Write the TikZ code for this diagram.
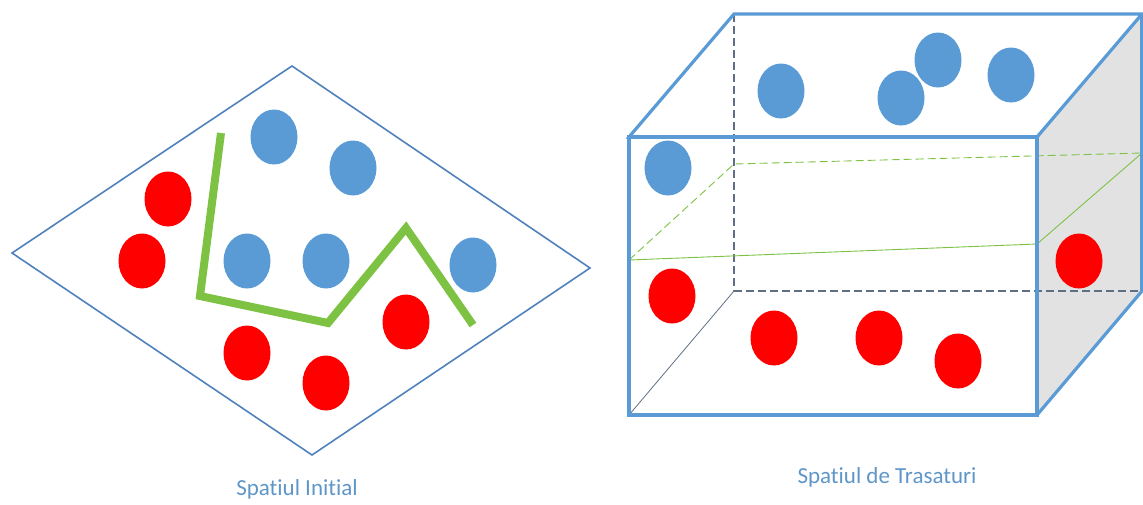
\documentclass[tikz,border=0pt]{standalone}
\usepackage{fontspec}
\setmainfont{Carlito}[Ligatures={NoCommon}]
\usetikzlibrary{shapes.geometric}
\definecolor{dotblue}{HTML}{5B9BD5}
\definecolor{dotred}{HTML}{FF0000}
\definecolor{sepgreen}{HTML}{7DC243}
\definecolor{edgeblue}{HTML}{5B9BD5}
\definecolor{diamblue}{HTML}{4F81BD}
\definecolor{hidden}{HTML}{5F6F85}
\definecolor{sideface}{HTML}{E2E2E2}
\definecolor{labelblue}{HTML}{5F96C8}
\tikzset{
  bdot/.style={ellipse,fill=dotblue,minimum width=47pt,minimum height=55pt,inner sep=0pt},
  rdot/.style={ellipse,fill=dotred,minimum width=47pt,minimum height=55pt,inner sep=0pt},
  cubeedge/.style={draw=edgeblue,line width=3.2pt,line join=miter},
  backedge/.style={draw=hidden,line width=1.1pt,dash pattern=on 8pt off 4pt},
  planeline/.style={draw=sepgreen,line width=0.9pt},
  planedash/.style={draw=sepgreen,line width=0.9pt,dash pattern=on 8pt off 4pt},
  caption/.style={text=labelblue,font=\fontsize{23}{27}\selectfont}
}
\begin{document}
\begin{tikzpicture}[x=1pt,y=-1pt]
\useasboundingbox (0,0) rectangle (1143,504);
% ---------- left: initial space ----------
\coordinate (dT) at (292,66);
\coordinate (dL) at (12,253);
\coordinate (dR) at (590,268);
\coordinate (dB) at (312,455);
\draw[diamblue,line width=1.6pt,line join=miter] (dT) -- (dR) -- (dB) -- (dL) -- cycle;
\node[bdot] (b1) at (274,137) {};
\node[bdot] (b2) at (353,168) {};
\node[bdot] (b3) at (247,261) {};
\node[bdot] (b4) at (326,261) {};
\node[bdot] (b5) at (473,265) {};
\node[rdot] (r1) at (168,199) {};
\node[rdot] (r2) at (142,261) {};
\node[rdot] (r3) at (406,322) {};
\node[rdot] (r4) at (247,353) {};
\node[rdot] (r5) at (326,383) {};
\coordinate (g1) at (221,133);
\coordinate (g2) at (200,296);
\coordinate (g3) at (328,323);
\coordinate (g4) at (406,228);
\coordinate (g5) at (473,325);
\draw[sepgreen,line width=8pt,line join=miter] (g1) -- (g2) -- (g3) -- (g4) -- (g5);
\node[caption] (capL) at (297,489) {Spatiul Initial};
% ---------- right: feature space ----------
\coordinate (FTL) at (629,137);
\coordinate (FTR) at (1037,137);
\coordinate (FBL) at (629,415);
\coordinate (FBR) at (1037,415);
\coordinate (BTL) at (734,14);
\coordinate (BTR) at (1142,14);
\coordinate (BBL) at (734,291);
\coordinate (BBR) at (1142,291);
\fill[sideface] (FTR) -- (BTR) -- (BBR) -- (FBR) -- cycle;
\draw[backedge] (BTL) -- (BBL);
\draw[backedge] (BBL) -- (BBR);
\draw[hidden,line width=0.8pt] (FBL) -- (BBL);
% separating plane
\coordinate (pFL) at (629,260);
\coordinate (pFR) at (1037,244);
\coordinate (pBL) at (734,164);
\coordinate (pBR) at (1142,153);
\draw[planeline] (pFL) -- (pFR) -- (pBR);
\draw[planedash] (pFL) -- (pBL) -- (pBR);
% solid edges
\draw[cubeedge] (FTL) -- (BTL) -- (BTR) -- (FTR) -- cycle;
\draw[cubeedge] (FTL) rectangle (FBR);
\draw[cubeedge] (FBR) -- (BBR);
\draw[cubeedge] (BTR) -- (BBR);
% dots
\node[bdot] (c1) at (781,91) {};
\node[bdot] (c2) at (901,98) {};
\node[bdot] (c3) at (938,60) {};
\node[bdot] (c4) at (1011,75) {};
\node[bdot] (c5) at (668,168) {};
\node[rdot] (s1) at (672,296) {};
\node[rdot] (s2) at (774,338) {};
\node[rdot] (s3) at (879,338) {};
\node[rdot] (s4) at (958,361) {};
\node[rdot] (s5) at (1079,261) {};
\node[caption] (capR) at (887,477) {Spatiul de Trasaturi};
\end{tikzpicture}
\end{document}
